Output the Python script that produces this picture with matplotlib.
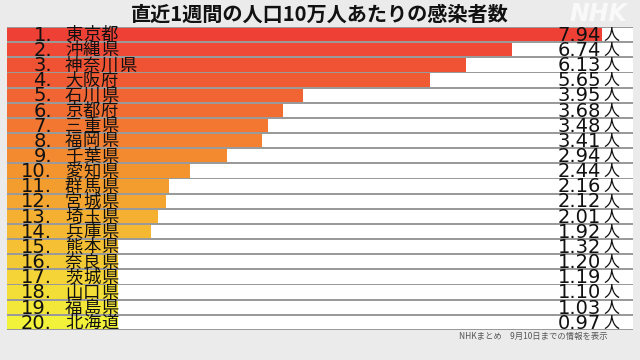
import numpy as np
import matplotlib
matplotlib.use('Agg')
import matplotlib.pyplot as plt
from matplotlib.colors import LinearSegmentedColormap

plt.rcParams['font.family'] = ['Noto Sans CJK JP', 'DejaVu Sans']

title = '直近1週間の人口10万人あたりの感染者数'
ranks = ['1.', '2.', '3.', '4.', '5.', '6.', '7.', '8.', '9.', '10.',
         '11.', '12.', '13.', '14.', '15.', '16.', '17.', '18.', '19.', '20.']
names = ['東京都', '沖縄県', '神奈川県', '大阪府', '石川県', '京都府', '三重県',
         '福岡県', '千葉県', '愛知県', '群馬県', '宮城県', '埼玉県', '兵庫県',
         '熊本県', '奈良県', '茨城県', '山口県', '福島県', '北海道']
values = [7.94, 6.74, 6.13, 5.65, 3.95, 3.68, 3.48, 3.41, 2.94, 2.44,
          2.16, 2.12, 2.01, 1.92, 1.32, 1.20, 1.19, 1.10, 1.03, 0.97]
unit = '人'
footer = 'NHKまとめ　9月10日までの情報を表示'

W, H = 640, 360
scale = 74.9          # pixels per unit
x0, x1 = 7, 633       # row extent in pixels
y_top, y_bot = 27, 330

fig = plt.figure(figsize=(6.4, 3.6), dpi=100)
fig.patch.set_facecolor('#ebebeb')
ax = fig.add_axes([x0 / W, 1 - y_bot / H, (x1 - x0) / W, (y_bot - y_top) / H])
ax.set_facecolor('none')
xmax = (x1 - x0) / scale
ax.set_xlim(0, xmax)
ax.set_ylim(len(values) - 0.5, -0.5)
ax.axis('off')

def px(p):
    return (p - x0) / scale

cmap = LinearSegmentedColormap.from_list('heat', ['#ef4036', '#f26b32', '#f4992f', '#f5c233', '#f2f23a'])
n = len(values)
colors = [cmap(i / (n - 1)) for i in range(n)]
y = np.arange(n)

# row backgrounds
ax.barh(y, xmax, height=0.88, color='white', edgecolor='none', zorder=1)
for b in np.arange(n + 1) - 0.5:
    ax.axhline(b, color='#9a9a9a', lw=1.5, zorder=0.5)

# bars (never narrower than the label)
min_w = px(118)
bar_w = np.maximum(values, min_w)
ax.barh(y, bar_w, height=0.88, color=colors, edgecolor='none', zorder=2)

narrow = ['Liberation Sans Narrow', 'DejaVu Sans']
for i in range(n):
    ax.text(px(52), y[i] + 0.05, ranks[i], ha='right', va='center', fontsize=14,
            color='#111111', family=narrow, zorder=5)
    for j, ch in enumerate(names[i]):
        ax.text(px(65 + 18 * j), y[i] + 0.05, ch, ha='left', va='center', fontsize=12.5,
                color='#111111', zorder=5)
    ax.text(px(601), y[i] + 0.05, '{:.2f}'.format(values[i]), ha='right', va='center',
            fontsize=14, color='#111111', family=narrow, zorder=5)
    ax.text(px(603), y[i] + 0.05, unit, ha='left', va='center', fontsize=11.5,
            color='#111111', zorder=5)

fig.text(320 / W, 1 - 14 / H, title, ha='center', va='center', fontsize=14.5,
         fontweight='bold', color='#111111')
fig.text(598 / W, 1 - 14 / H, 'NHK', ha='center', va='center', fontsize=17,
         fontweight='bold', style='italic', color='white', alpha=0.75,
         family=['DejaVu Sans'])
fig.text(608 / W, 1 - 336 / H, footer, ha='right', va='center', fontsize=6,
         color='#555555')

fig.savefig('out.png', dpi=100, facecolor=fig.get_facecolor())
